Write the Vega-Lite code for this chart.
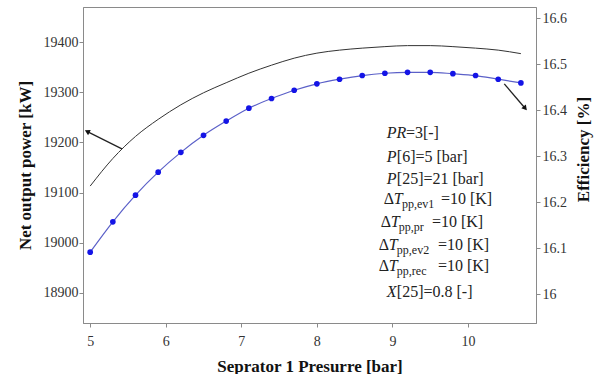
{
  "$schema": "https://vega.github.io/schema/vega-lite/v6.json",
  "autosize": "none",
  "width": 453,
  "height": 316,
  "padding": {"left": 83, "top": 7, "right": 59, "bottom": 51},
  "background": "white",
  "config": {
    "view": {"stroke": "#8a8a8a", "strokeWidth": 1},
    "font": "Liberation Serif",
    "axis": {
      "labelFont": "Liberation Serif",
      "labelFontSize": 14,
      "labelColor": "#333333",
      "titleFont": "Liberation Serif",
      "titleFontSize": 17,
      "titleFontWeight": "bold",
      "titleColor": "#111111",
      "domainColor": "#8a8a8a",
      "tickColor": "#8a8a8a",
      "grid": false
    }
  },
  "datasets": {
    "power": [
      {"p": 5.0, "kw": 19113}, {"p": 5.3, "kw": 19168}, {"p": 5.6, "kw": 19212}, {"p": 5.9, "kw": 19246},
      {"p": 6.2, "kw": 19275}, {"p": 6.5, "kw": 19299}, {"p": 6.8, "kw": 19319}, {"p": 7.1, "kw": 19338},
      {"p": 7.4, "kw": 19354}, {"p": 7.7, "kw": 19368}, {"p": 8.0, "kw": 19378}, {"p": 8.3, "kw": 19384},
      {"p": 8.6, "kw": 19388}, {"p": 8.9, "kw": 19391}, {"p": 9.2, "kw": 19393}, {"p": 9.5, "kw": 19393},
      {"p": 9.8, "kw": 19391}, {"p": 10.1, "kw": 19388}, {"p": 10.4, "kw": 19384}, {"p": 10.7, "kw": 19377}
    ],
    "eff": [
      {"p": 5.0, "eff": 16.091}, {"p": 5.3, "eff": 16.157}, {"p": 5.6, "eff": 16.215}, {"p": 5.9, "eff": 16.265},
      {"p": 6.2, "eff": 16.308}, {"p": 6.5, "eff": 16.345}, {"p": 6.8, "eff": 16.376}, {"p": 7.1, "eff": 16.404},
      {"p": 7.4, "eff": 16.425}, {"p": 7.7, "eff": 16.443}, {"p": 8.0, "eff": 16.457}, {"p": 8.3, "eff": 16.467},
      {"p": 8.6, "eff": 16.475}, {"p": 8.9, "eff": 16.480}, {"p": 9.2, "eff": 16.482}, {"p": 9.5, "eff": 16.482},
      {"p": 9.8, "eff": 16.479}, {"p": 10.1, "eff": 16.475}, {"p": 10.4, "eff": 16.467}, {"p": 10.7, "eff": 16.459}
    ],
    "arrowPower": [{"x": 5.42, "y": 19187, "x2": 4.97, "y2": 19221}],
    "arrowEff": [{"x": 10.48, "y": 16.457, "x2": 10.75, "y2": 16.405}],
    "notes": [
      {"part": "it", "text": "PR", "x": 8.926, "y": 19209},
      {"part": "rm", "text": "=3[-]", "x": 9.178, "y": 19209},
      {"part": "it", "text": "P", "x": 8.926, "y": 19161},
      {"part": "rm", "text": "[6]=5 [bar]", "x": 9.058, "y": 19161},
      {"part": "it", "text": "P", "x": 8.926, "y": 19117},
      {"part": "rm", "text": "[25]=21 [bar]", "x": 9.058, "y": 19117},
      {"part": "rm", "text": "Δ", "x": 8.886, "y": 19077},
      {"part": "it", "text": "T", "x": 9.019, "y": 19077},
      {"part": "sub", "text": "pp,ev1", "x": 9.125, "y": 19069},
      {"part": "rm", "text": "=10 [K]", "x": 9.642, "y": 19077},
      {"part": "rm", "text": "Δ", "x": 8.846, "y": 19031},
      {"part": "it", "text": "T", "x": 8.979, "y": 19031},
      {"part": "sub", "text": "pp,pr", "x": 9.085, "y": 19024},
      {"part": "rm", "text": "=10 [K]", "x": 9.523, "y": 19031},
      {"part": "rm", "text": "Δ", "x": 8.820, "y": 18986},
      {"part": "it", "text": "T", "x": 8.952, "y": 18986},
      {"part": "sub", "text": "pp,ev2", "x": 9.058, "y": 18978},
      {"part": "rm", "text": "=10 [K]", "x": 9.602, "y": 18986},
      {"part": "rm", "text": "Δ", "x": 8.820, "y": 18944},
      {"part": "it", "text": "T", "x": 8.952, "y": 18944},
      {"part": "sub", "text": "pp,rec", "x": 9.058, "y": 18936},
      {"part": "rm", "text": "=10 [K]", "x": 9.602, "y": 18944},
      {"part": "it", "text": "X", "x": 8.926, "y": 18892},
      {"part": "rm", "text": "[25]=0.8 [-]", "x": 9.058, "y": 18892}
    ]
  },
  "layer": [
    {
      "layer": [
        {
          "data": {"name": "power"},
          "mark": {"type": "line", "color": "#333333", "strokeWidth": 1, "interpolate": "monotone"},
          "encoding": {
            "x": {
              "field": "p", "type": "quantitative",
              "scale": {"domain": [4.905, 10.9], "nice": false, "zero": false},
              "axis": {"title": "Seprator 1 Presurre [bar]", "values": [5, 6, 7, 8, 9, 10], "format": "d", "tickSize": 4, "labelPadding": 7, "titlePadding": 10, "labelFont": "Liberation Serif", "titleFont": "Liberation Serif"}
            },
            "y": {
              "field": "kw", "type": "quantitative",
              "scale": {"domain": [18840, 19470], "nice": false, "zero": false},
              "axis": {"title": "Net output power [kW]", "values": [18900, 19000, 19100, 19200, 19300, 19400], "format": "d", "tickSize": 4, "labelPadding": 1, "titlePadding": 9, "labelFont": "Liberation Serif", "titleFont": "Liberation Serif"}
            }
          }
        },
        {
          "data": {"name": "arrowPower"},
          "mark": {"type": "rule", "color": "#222222", "strokeWidth": 1.3},
          "encoding": {
            "x": {"field": "x", "type": "quantitative"},
            "y": {"field": "y", "type": "quantitative"},
            "x2": {"field": "x2"},
            "y2": {"field": "y2"}
          }
        },
        {
          "data": {"name": "arrowPower"},
          "mark": {"type": "point", "shape": "triangle", "filled": true, "color": "#111111", "size": 35, "angle": 297, "opacity": 1},
          "encoding": {
            "x": {"field": "x2", "type": "quantitative"},
            "y": {"field": "y2", "type": "quantitative"}
          }
        },
        {
          "data": {"name": "notes"},
          "transform": [{"filter": "datum.part === 'rm'"}],
          "mark": {"type": "text", "align": "left", "baseline": "alphabetic", "font": "Liberation Serif", "fontSize": 16, "color": "#222222"},
          "encoding": {
            "x": {"field": "x", "type": "quantitative"},
            "y": {"field": "y", "type": "quantitative"},
            "text": {"field": "text"}
          }
        },
        {
          "data": {"name": "notes"},
          "transform": [{"filter": "datum.part === 'it'"}],
          "mark": {"type": "text", "align": "left", "baseline": "alphabetic", "font": "Liberation Serif", "fontStyle": "italic", "fontSize": 16, "color": "#222222"},
          "encoding": {
            "x": {"field": "x", "type": "quantitative"},
            "y": {"field": "y", "type": "quantitative"},
            "text": {"field": "text"}
          }
        },
        {
          "data": {"name": "notes"},
          "transform": [{"filter": "datum.part === 'sub'"}],
          "mark": {"type": "text", "align": "left", "baseline": "alphabetic", "font": "Liberation Serif", "fontSize": 12, "color": "#222222"},
          "encoding": {
            "x": {"field": "x", "type": "quantitative"},
            "y": {"field": "y", "type": "quantitative"},
            "text": {"field": "text"}
          }
        }
      ]
    },
    {
      "layer": [
        {
          "data": {"name": "eff"},
          "mark": {"type": "line", "color": "#5b60c8", "strokeWidth": 1.2, "interpolate": "monotone"},
          "encoding": {
            "x": {"field": "p", "type": "quantitative"},
            "y": {
              "field": "eff", "type": "quantitative",
              "scale": {"domain": [15.937, 16.624], "nice": false, "zero": false},
              "axis": {"orient": "right", "title": "Efficiency  [%]", "titleAngle": 270, "titleY": 142, "values": [16, 16.1, 16.2, 16.3, 16.4, 16.5, 16.6], "format": ".1~f", "tickSize": 4, "labelPadding": 2, "titlePadding": 26, "labelFont": "Liberation Serif", "titleFont": "Liberation Serif"}
            }
          }
        },
        {
          "data": {"name": "eff"},
          "mark": {"type": "point", "shape": "circle", "filled": true, "color": "#1414e6", "size": 32, "opacity": 1},
          "encoding": {
            "x": {"field": "p", "type": "quantitative"},
            "y": {"field": "eff", "type": "quantitative"}
          }
        },
        {
          "data": {"name": "arrowEff"},
          "mark": {"type": "rule", "color": "#222222", "strokeWidth": 1.3},
          "encoding": {
            "x": {"field": "x", "type": "quantitative"},
            "y": {"field": "y", "type": "quantitative"},
            "x2": {"field": "x2"},
            "y2": {"field": "y2"}
          }
        },
        {
          "data": {"name": "arrowEff"},
          "mark": {"type": "point", "shape": "triangle", "filled": true, "color": "#111111", "size": 35, "angle": 140, "opacity": 1},
          "encoding": {
            "x": {"field": "x2", "type": "quantitative"},
            "y": {"field": "y2", "type": "quantitative"}
          }
        }
      ]
    }
  ],
  "resolve": {"scale": {"y": "independent"}}
}
